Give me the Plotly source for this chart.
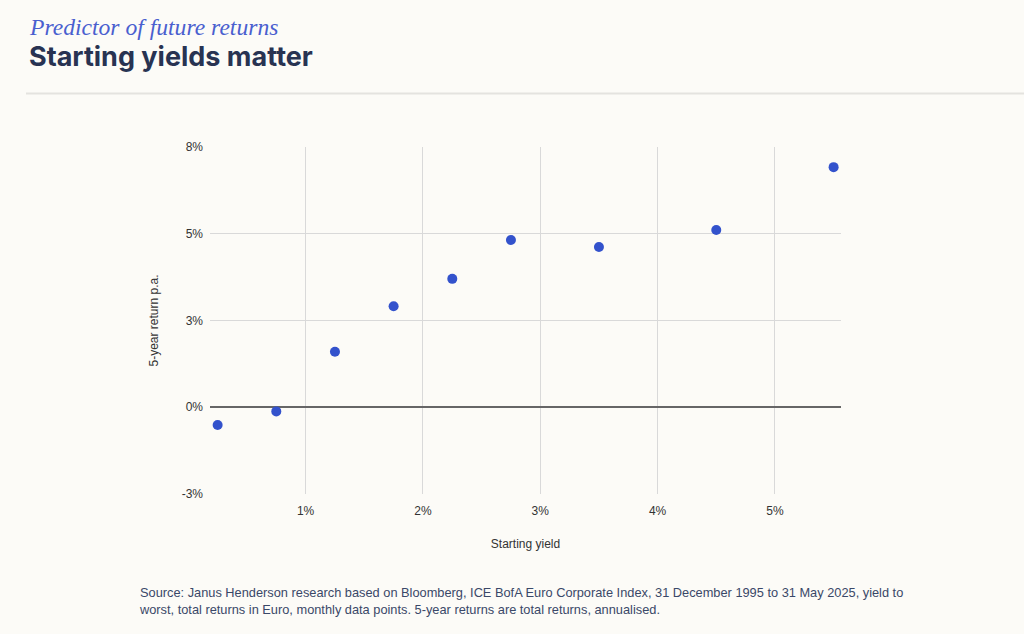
import plotly.graph_objects as go

# starting yield buckets (%) and the 5-year annualised return that followed (%)
starting_yield = [0.25, 0.75, 1.25, 1.75, 2.25, 2.75, 3.5, 4.5, 5.5]
five_year_return = [-0.51, -0.12, 1.60, 2.91, 3.70, 4.82, 4.62, 5.11, 6.92]

x_tickvals = [1, 2, 3, 4, 5]
x_ticktext = ["1%", "2%", "3%", "4%", "5%"]
y_tickvals = [-2.5, 0, 2.5, 5, 7.5]
y_ticktext = ["-3%", "0%", "3%", "5%", "8%"]

source_note = (
    "Source: Janus Henderson research based on Bloomberg, ICE BofA Euro Corporate Index, "
    "31 December 1995 to 31 May 2025, yield to<br>worst, total returns in Euro, monthly data "
    "points. 5-year returns are total returns, annualised."
)

BG = "#fcfbf7"
GRID = "#d9d9d9"
TICK_FONT = dict(family="Liberation Sans, Arial, sans-serif", size=12, color="#333333")

fig = go.Figure(
    go.Scatter(
        x=starting_yield,
        y=five_year_return,
        mode="markers",
        marker=dict(size=10, color="#3352cc"),
        hoverinfo="skip",
    )
)

fig.update_layout(
    width=1024,
    height=634,
    margin=dict(l=210, r=183, t=147, b=140),
    paper_bgcolor=BG,
    plot_bgcolor=BG,
    showlegend=False,
)

fig.update_xaxes(
    range=[0.185, 5.563],
    tickvals=x_tickvals,
    ticktext=x_ticktext,
    tickfont=TICK_FONT,
    showgrid=True,
    gridcolor=GRID,
    gridwidth=1,
    zeroline=False,
    showline=False,
    ticks="",
    ticklabelstandoff=8,
    title=dict(text="Starting yield", font=TICK_FONT, standoff=22),
)

fig.update_yaxes(
    range=[-2.5, 7.5],
    tickvals=y_tickvals,
    ticktext=y_ticktext,
    tickfont=TICK_FONT,
    showgrid=True,
    gridcolor=GRID,
    gridwidth=1,
    zeroline=True,
    zerolinecolor="#666666",
    zerolinewidth=1.5,
    showline=False,
    ticks="",
    ticklabelstandoff=6,
    title=dict(text="5-year return p.a.", font=TICK_FONT, standoff=20),
)

# place header / footer in pixel terms relative to the plot area
plot_w = 1024 - 210 - 183
plot_h = 634 - 147 - 140


def px_x(px):
    return (px - 210) / plot_w


def px_y(py):
    return (634 - 140 - py) / plot_h


fig.add_annotation(
    text="<i>Predictor of future returns</i>",
    xref="paper", yref="paper", x=px_x(27), y=px_y(27),
    xanchor="left", yanchor="middle",
    font=dict(family="Liberation Serif, DejaVu Serif, serif", size=23.6, color="#4a5fcf"),
    showarrow=False,
)
fig.add_annotation(
    text="<b>Starting yields matter</b>",
    xref="paper", yref="paper", x=px_x(27), y=px_y(57),
    xanchor="left", yanchor="middle",
    font=dict(family="Inter, Lato, sans-serif", size=27, color="#283352"),
    showarrow=False,
)
fig.add_annotation(
    text=source_note,
    xref="paper", yref="paper", x=px_x(137), y=px_y(583),
    xanchor="left", yanchor="top", align="left",
    font=dict(family="Liberation Sans, Arial, sans-serif", size=12.8, color="#3a4868"),
    showarrow=False,
)

fig.add_shape(
    type="line", xref="paper", yref="paper",
    x0=px_x(26), x1=px_x(1024), y0=px_y(93.5), y1=px_y(93.5),
    line=dict(color="#e4e3df", width=2),
)

fig.write_html(
    "out.html",
    config={"displayModeBar": False},
    post_script="document.body.style.margin='0';document.body.style.background='#fcfbf7';",
)
